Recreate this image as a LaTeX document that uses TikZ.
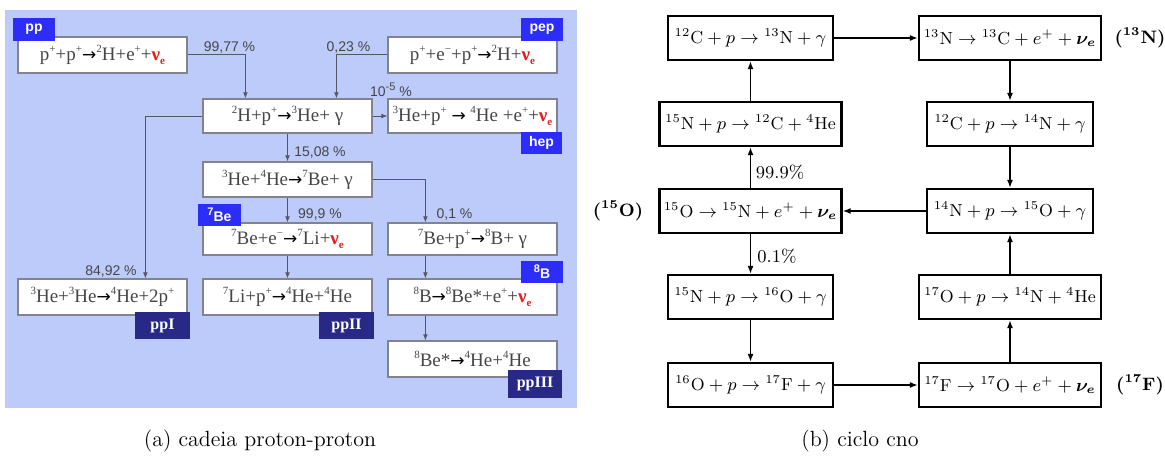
\documentclass[tikz,border=0pt]{standalone}
\usepackage{amsmath}
\usepackage{bm}
\usepackage{fontspec}
\newfontfamily\tnr{Liberation Serif}
\newfontfamily\ars{Liberation Sans}
\newfontfamily\djv{DejaVu Sans}
\usetikzlibrary{arrows.meta,calc}
\definecolor{bgblue}{RGB}{189,203,250}
\definecolor{lborder}{RGB}{130,130,145}
\definecolor{textgrey}{RGB}{70,70,70}
\definecolor{nured}{RGB}{225,30,30}
\definecolor{tagblue}{RGB}{45,45,250}
\definecolor{navy}{RGB}{40,40,135}
\definecolor{congrey}{RGB}{85,85,100}
\newcommand{\tu}[1]{\raisebox{0.42em}{\fontsize{5.5}{6}\selectfont #1}}
\newcommand{\tarr}{\textcolor{black}{{\djv\fontsize{8.5}{9}\selectfont →}}}
\newcommand{\nue}{\textcolor{nured}{\textbf{ν}\raisebox{-0.25em}{\fontsize{5.5}{6}\selectfont\bfseries e}}}
\tikzset{
  wh/.style 2 args={minimum width=#1*0.5pt, minimum height=#2*0.5pt},
  lbox/.style={draw=lborder, fill=white, line width=0.6pt, inner sep=0pt,
    font=\tnr\fontsize{9.5}{11}\selectfont, text=textgrey},
  tag/.style={fill=tagblue, text=white, inner sep=0pt,
    font=\ars\bfseries\fontsize{7}{8}\selectfont},
  navytag/.style={fill=navy, text=white, inner sep=0pt,
    font=\tnr\bfseries\fontsize{8}{9}\selectfont},
  pct/.style={font=\ars\fontsize{7}{8}\selectfont, text=textgrey, inner sep=0pt},
  lcon/.style={draw=congrey, line width=0.5pt, -{Latex[length=3pt,width=2.4pt]}},
  rbox/.style={draw=black, line width=1.1pt, fill=white, inner sep=0pt,
    font=\fontsize{8.7}{10}\selectfont},
  rcon/.style={draw=black, line width=0.8pt, -{Latex[length=4pt,width=3pt]}},
  rlab/.style={font=\fontsize{9}{11}\selectfont, inner sep=0pt},
  side/.style={font=\fontsize{9}{11}\selectfont\bfseries\boldmath, inner sep=0pt},
  capt/.style={font=\fontsize{11}{13}\selectfont, inner sep=0pt}
}
\begin{document}
\begin{tikzpicture}[x=0.5pt,y=-0.5pt]
\useasboundingbox (0,0) rectangle (1165,460);
\fill[white] (0,0) rectangle (1165,460);
% ---------------- left panel ----------------
\fill[bgblue] (5,10) rectangle (577,408);
\node[lbox, wh={169}{36}] (pp)   at (102.5,55)  {p\tu{+}+p\tu{+}\tarr\tu{2}H+e\tu{+}+\nue};
\node[lbox, wh={169}{36}] (pep)  at (472.5,55)  {p\tu{+}+e\tu{−}+p\tu{+}\tarr\tu{2}H+\nue};
\node[lbox, wh={169}{34}] (dH)   at (287.5,116) {\tu{2}H+p\tu{+}\tarr\tu{3}He+ γ};
\node[lbox, wh={169}{34}] (hep)  at (472.5,116) {\tu{3}He+p\tu{+} \tarr{} \tu{4}He +e\tu{+}+\nue};
\node[lbox, wh={169}{35}] (he34) at (287.5,179.5) {\tu{3}He+\tu{4}He\tarr\tu{7}Be+ γ};
\node[lbox, wh={169}{32}] (be7e) at (287.5,239) {\tu{7}Be+e\tu{−}\tarr\tu{7}Li+\nue};
\node[lbox, wh={169}{32}] (be7p) at (472.5,239) {\tu{7}Be+p\tu{+}\tarr\tu{8}B+ γ};
\node[lbox, wh={169}{36}] (he33) at (102.5,297) {\tu{3}He+\tu{3}He\tarr\tu{4}He+2p\tu{+}};
\node[lbox, wh={169}{36}] (li7)  at (287.5,297) {\tu{7}Li+p\tu{+}\tarr\tu{4}He+\tu{4}He};
\node[lbox, wh={169}{36}] (b8)   at (472.5,297) {\tu{8}B\tarr\tu{8}Be*+e\tu{+}+\nue};
\node[lbox, wh={169}{36}] (be8)  at (472.5,359) {\tu{8}Be*\tarr\tu{4}He+\tu{4}He};
% tags
\node[tag, wh={42}{23}] (tpp)  at (34,29.5)   {pp};
\node[tag, wh={42}{23}] (tpep) at (542,29.5)  {pep};
\node[tag, wh={41}{22}] (thep) at (541.5,143) {hep};
\node[tag, wh={43}{22}] (tbe)  at (219.5,215) {\tu{7}Be};
\node[tag, wh={42}{22}] (tb)   at (542,272)   {\tu{8}B};
\node[navytag, wh={55}{27}] (t1) at (162.5,325.5) {ppI};
\node[navytag, wh={55}{27}] (t2) at (346.5,325.5) {ppII};
\node[navytag, wh={54}{28}] (t3) at (535,384)     {ppIII};
% connectors
\draw[lcon] (pp.east) -| ($(dH.north west)+(43,0)$);
\draw[lcon] (pep.west) -| ($(dH.north west)+(134,0)$);
\draw[lcon] (dH.east) -- (hep.west);
\draw[lcon] (dH.west) -| ($(he33.north west)+(128,0)$);
\draw[lcon] (dH.south) -- (he34.north);
\draw[lcon] (he34.south) -- (be7e.north);
\draw[lcon] (he34.east) -| ($(be7p.north west)+(38,0)$);
\draw[lcon] (be7e.south) -- (li7.north);
\draw[lcon] ($(be7p.south west)+(38,0)$) -- ($(b8.north west)+(38,0)$);
\draw[lcon] ($(b8.south west)+(38,0)$) -- ($(be8.north west)+(38,0)$);
\node[pct] (l1) at (229.5,48) {99,77 \%};
\node[pct] (l2) at (348.5,48) {0,23 \%};
\node[pct] (l3) at (391,90)   {10\tu{-5} \%};
\node[pct] (l4) at (111,272)  {84,92 \%};
\node[pct] (l5) at (320,153)  {15,08 \%};
\node[pct] (l6) at (320,215)  {99,9 \%};
\node[pct] (l7) at (454.5,215) {0,1 \%};
% ---------------- right panel ----------------
\node[rbox, wh={165}{44}] (A) at (750.5,38)  {${}^{12}\mathrm{C}+p\rightarrow{}^{13}\mathrm{N}+\gamma$};
\node[rbox, wh={182}{44}] (B) at (750.5,124) {${}^{15}\mathrm{N}+p\rightarrow{}^{12}\mathrm{C}+{}^{4}\mathrm{He}$};
\node[rbox, wh={182}{44}] (C) at (750.5,211) {${}^{15}\mathrm{O}\rightarrow{}^{15}\mathrm{N}+e^{+}+\bm{\nu_e}$};
\node[rbox, wh={165}{44}] (D) at (750.5,297) {${}^{15}\mathrm{N}+p\rightarrow{}^{16}\mathrm{O}+\gamma$};
\node[rbox, wh={165}{44}] (E) at (750.5,385) {${}^{16}\mathrm{O}+p\rightarrow{}^{17}\mathrm{F}+\gamma$};
\node[rbox, wh={182}{44}] (F) at (1010,38)   {${}^{13}\mathrm{N}\rightarrow{}^{13}\mathrm{C}+e^{+}+\bm{\nu_e}$};
\node[rbox, wh={166}{44}] (G) at (1010,124)  {${}^{12}\mathrm{C}+p\rightarrow{}^{14}\mathrm{N}+\gamma$};
\node[rbox, wh={166}{44}] (H) at (1010,211)  {${}^{14}\mathrm{N}+p\rightarrow{}^{15}\mathrm{O}+\gamma$};
\node[rbox, wh={182}{44}] (I) at (1010,297)  {${}^{17}\mathrm{O}+p\rightarrow{}^{14}\mathrm{N}+{}^{4}\mathrm{He}$};
\node[rbox, wh={182}{44}] (J) at (1010,385)  {${}^{17}\mathrm{F}\rightarrow{}^{17}\mathrm{O}+e^{+}+\bm{\nu_e}$};
\draw[rcon] (A.east) -- (F.west);
\draw[rcon] (B.north) -- (A.south);
\draw[rcon] (C.north) -- (B.south);
\draw[rcon] (H.west) -- (C.east);
\draw[rcon] (C.south) -- (D.north);
\draw[rcon] (D.south) -- (E.north);
\draw[rcon] (E.east) -- (J.west);
\draw[rcon] (J.north) -- (I.south);
\draw[rcon] (I.north) -- (H.south);
\draw[rcon] (F.south) -- (G.north);
\draw[rcon] (G.south) -- (H.north);
\node[rlab] (p1) at (780,172) {99.9\%};
\node[rlab] (p2) at (777,256) {0.1\%};
\node[side] (s1) at (1140,38)  {(${}^{13}$N)};
\node[side] (s2) at (618,211)  {(${}^{15}$O)};
\node[side] (s3) at (1140,385) {(${}^{17}$F)};
% captions
\node[capt] (ca) at (260,441) {(a) cadeia proton-proton};
\node[capt] (cb) at (860,441) {(b) ciclo cno};
\end{tikzpicture}
\end{document}
